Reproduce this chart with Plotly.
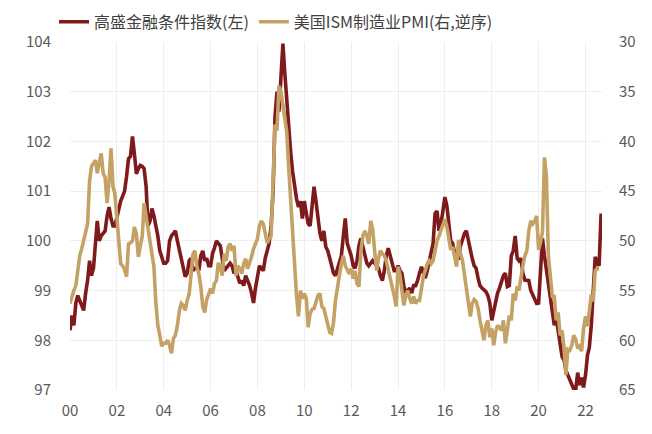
import pandas as pd
import plotly.graph_objects as go

# Monthly data, Jan 2000 onward
start_month = "2000-01-01"

fci_gs = [
    # 2000
    98.2, 98.5, 98.3, 98.75, 98.9, 98.8, 98.7, 98.6, 98.95, 99.2, 99.6, 99.3,
    # 2001
    99.45, 99.9, 100.4, 100.0, 100.1, 100.15, 100.2, 100.5, 100.68, 100.45, 100.3, 100.3,
    # 2002
    100.5, 100.65, 100.8, 100.9, 101.0, 101.3, 101.65, 101.7, 102.1, 101.75, 101.35, 101.45,
    # 2003
    101.52, 101.5, 101.45, 101.1, 100.3, 100.4, 100.65, 100.5, 100.3, 100.1, 99.8, 99.65,
    # 2004
    99.55, 99.55, 99.6, 100.0, 100.1, 100.15, 100.2, 100.0, 99.8, 99.6, 99.45, 99.28,
    # 2005
    99.35, 99.6, 99.65, 99.4, 99.45, 99.45, 99.4, 99.7, 99.8, 99.6, 99.65, 99.5,
    # 2006
    99.5, 99.75, 99.85, 100.0, 99.95, 99.9, 99.65, 99.4, 99.45, 99.5, 99.55, 99.5,
    # 2007
    99.35, 99.4, 99.3, 99.15, 99.2, 99.1, 99.3, 99.2, 99.1, 98.95, 98.75, 99.05,
    # 2008
    99.3, 99.5, 99.45, 99.4, 99.65, 99.8, 99.95, 100.3, 101.0, 102.5, 103.0, 102.6,
    # 2009
    103.3, 103.97, 103.4, 102.8, 102.2, 101.8, 101.4, 101.05, 100.85, 100.68, 100.8, 100.45,
    # 2010
    100.8, 100.55, 100.35, 100.3, 100.65, 101.09, 100.8, 100.5, 100.15, 100.0, 100.2, 99.88,
    # 2011
    99.8, 99.65, 99.5, 99.35, 99.3, 99.45, 99.6, 99.7, 100.1, 100.45, 99.95, 99.85,
    # 2012
    99.7, 99.5, 99.45, 99.6, 99.9, 100.05, 99.9, 99.7, 99.55, 99.5, 99.55, 99.6,
    # 2013
    99.55, 99.5, 99.45, 99.3, 99.2, 99.4, 99.7, 99.85, 99.7, 99.5, 99.4, 99.4,
    # 2014
    99.5, 99.4, 99.35, 99.1, 98.95, 99.0, 99.05, 98.95, 99.1, 99.1, 99.2, 99.35,
    # 2015
    99.48, 99.35, 99.25, 99.4, 99.6, 99.8, 99.95, 100.55, 100.6, 100.2, 100.35, 100.6,
    # 2016
    100.88, 100.7, 100.3, 100.0, 99.95, 99.75, 99.65, 99.65, 99.9, 100.05, 100.15, 100.2,
    # 2017
    100.0, 99.75, 99.65, 99.5, 99.45, 99.25, 99.1, 99.05, 99.0, 98.98, 98.9, 98.75,
    # 2018
    98.4, 98.6, 98.8, 98.95, 99.05, 99.2, 99.3, 99.35, 99.08, 99.1, 99.7, 99.8,
    # 2019
    100.1, 99.65, 99.6, 99.65, 99.35, 99.21, 99.2, 99.2, 99.0, 98.9, 98.8, 98.74,
    # 2020
    98.75, 99.3, 100.05, 99.7, 99.4, 99.2, 98.9, 98.5, 98.3, 98.45, 98.2, 97.9,
    # 2021
    97.67, 97.6, 97.4, 97.3, 97.2, 97.07, 97.02, 97.0, 97.35, 97.1, 97.25, 97.05,
    # 2022
    97.3, 97.7, 97.85, 98.3, 99.0, 99.68, 99.55, 99.5, 100.55,
]

ism_pmi = [
    # 2000
    56.3, 55.5, 55.0, 54.5, 53.0, 51.5, 50.8, 50.0, 49.0, 48.3, 44.0, 42.5,
    # 2001
    42.2, 41.9, 43.2, 42.0, 41.2, 43.2, 43.6, 46.2, 44.0, 40.7, 44.5, 45.3,
    # 2002
    47.5, 50.6, 52.3, 52.5, 52.9, 53.6, 50.3, 50.2, 50.0, 48.6, 49.3, 51.6,
    # 2003
    50.5, 49.5, 46.2, 47.5, 48.8, 50.6, 51.5, 52.6, 56.3, 58.5, 59.5, 60.6,
    # 2004
    60.3, 60.3, 60.0, 60.5, 61.3, 59.8, 59.5, 58.5, 57.0, 56.3, 56.5, 57.0,
    # 2005
    56.0, 55.3, 53.5, 51.3, 51.0, 52.6, 53.3, 54.6, 56.6, 57.2, 55.9, 55.3,
    # 2006
    54.8, 55.3, 54.3, 54.0, 52.2, 52.6, 53.5, 51.3, 52.0, 50.6, 50.3, 51.0,
    # 2007
    50.5, 53.5, 52.5, 52.8, 53.3, 52.3, 51.8, 52.8, 52.3, 51.6, 50.8, 50.3,
    # 2008
    49.8, 48.5, 48.0, 48.3, 49.5, 50.2, 49.8, 49.5, 44.0, 38.3, 38.9, 34.4,
    # 2009
    35.0, 36.3, 37.3, 39.0, 42.5, 46.0, 49.5, 52.5, 55.5, 57.6, 55.0, 55.8,
    # 2010
    55.3, 55.8, 58.7, 57.3, 56.9, 56.8, 56.0, 55.5, 55.3, 56.6, 56.8, 57.6,
    # 2011
    58.5, 59.2, 59.3, 58.2, 56.0, 54.5, 53.5, 52.3, 51.5, 52.5, 53.0, 53.3,
    # 2012
    52.8, 53.8, 53.0, 54.3, 54.6, 51.0, 49.5, 49.0, 49.5, 50.3, 48.0, 48.8,
    # 2013
    51.0, 53.0, 51.8, 51.0, 51.3, 51.5, 52.0, 52.8, 53.8, 54.6, 55.5, 56.6,
    # 2014
    52.6, 53.5, 55.3, 56.5, 55.5, 55.0, 55.8, 56.3, 55.6, 56.3, 56.0, 56.0,
    # 2015
    54.8, 53.5, 53.0, 52.3, 52.0, 52.3, 52.0, 50.8, 50.0, 49.5, 49.0, 48.3,
    # 2016
    47.8, 48.6, 49.9, 50.9, 50.6, 51.5, 52.6, 49.9, 51.3, 52.0, 53.5, 55.0,
    # 2017
    56.5, 57.6, 56.3, 55.9, 56.1, 56.8, 58.0, 59.0, 60.0, 58.5, 58.0, 59.7,
    # 2018
    58.8, 60.5, 59.2, 58.5, 58.7, 59.0, 58.0, 60.3, 59.0, 57.5, 58.0, 55.3,
    # 2019
    56.0, 54.6, 55.0, 53.5, 52.5, 51.5, 51.0, 49.0, 48.0, 48.3, 48.0, 47.5,
    # 2020
    50.9, 50.1, 49.1, 41.6, 43.5, 51.5, 54.0, 55.6, 55.6, 58.0, 57.2, 59.5,
    # 2021
    59.0, 60.8, 63.5, 60.9, 61.0, 60.5, 59.5, 59.9, 60.8, 60.6, 61.1, 58.8,
    # 2022
    57.6, 58.6, 57.1, 55.4, 56.1, 53.0, 52.8, 52.8,
]

year_ticks = ["2000", "2002", "2004", "2006", "2008", "2010", "2012",
              "2014", "2016", "2018", "2020", "2022"]
year_labels = ["00", "02", "04", "06", "08", "10", "12",
               "14", "16", "18", "20", "22"]
left_ticks = [97, 98, 99, 100, 101, 102, 103, 104]
right_ticks = [30, 35, 40, 45, 50, 55, 60, 65]

name_fci = "高盛金融条件指数(左)"
name_pmi = "美国ISM制造业PMI(右,逆序)"

dates = pd.date_range(start_month, periods=len(fci_gs), freq="MS")

RED = "#7F1A1C"
TAN = "#C4A265"
GRID = "#EEEEEE"
TXT = "#595959"
FONT = "Noto Sans CJK SC"

fig = go.Figure()
fig.add_trace(go.Scatter(
    x=dates, y=fci_gs, name=name_fci, mode="lines",
    line=dict(color=RED, width=3.6), yaxis="y"))
fig.add_trace(go.Scatter(
    x=dates[:len(ism_pmi)], y=ism_pmi, name=name_pmi, mode="lines",
    line=dict(color=TAN, width=3.6), yaxis="y2"))

# page body has an 8px default margin, so the figure is sized to fit inside
fig.update_layout(
    width=644, height=426,
    margin=dict(l=62, r=50, t=34, b=44, autoexpand=False),
    paper_bgcolor="white", plot_bgcolor="white",
    font=dict(family=FONT, size=15, color=TXT),
    showlegend=True,
    legend=dict(orientation="h", x=-0.03, xanchor="left",
                y=1.058, yanchor="middle",
                font=dict(family=FONT, size=16, color="#404040"),
                itemwidth=30, tracegroupgap=0, bgcolor="rgba(0,0,0,0)"),
    xaxis=dict(
        type="date",
        range=["2000-01-01", "2022-09-15"],
        tickvals=[f"{y}-01-01" for y in year_ticks],
        ticktext=year_labels,
        showgrid=True, gridcolor=GRID, gridwidth=1,
        showline=False, zeroline=False, ticks="",
        ticklabelstandoff=10,
        tickfont=dict(family=FONT, size=15, color=TXT),
    ),
    yaxis=dict(
        range=[97, 104], tickvals=left_ticks,
        showgrid=True, gridcolor=GRID, gridwidth=1,
        zeroline=False, showline=False, ticks="",
        ticklabelstandoff=18,
        tickfont=dict(family=FONT, size=15, color=TXT),
    ),
    yaxis2=dict(
        range=[65, 30], tickvals=right_ticks,
        overlaying="y", side="right",
        showgrid=False, zeroline=False, showline=False, ticks="",
        ticklabelstandoff=16,
        tickfont=dict(family=FONT, size=15, color=TXT),
    ),
)

fig.write_html("out.html")
